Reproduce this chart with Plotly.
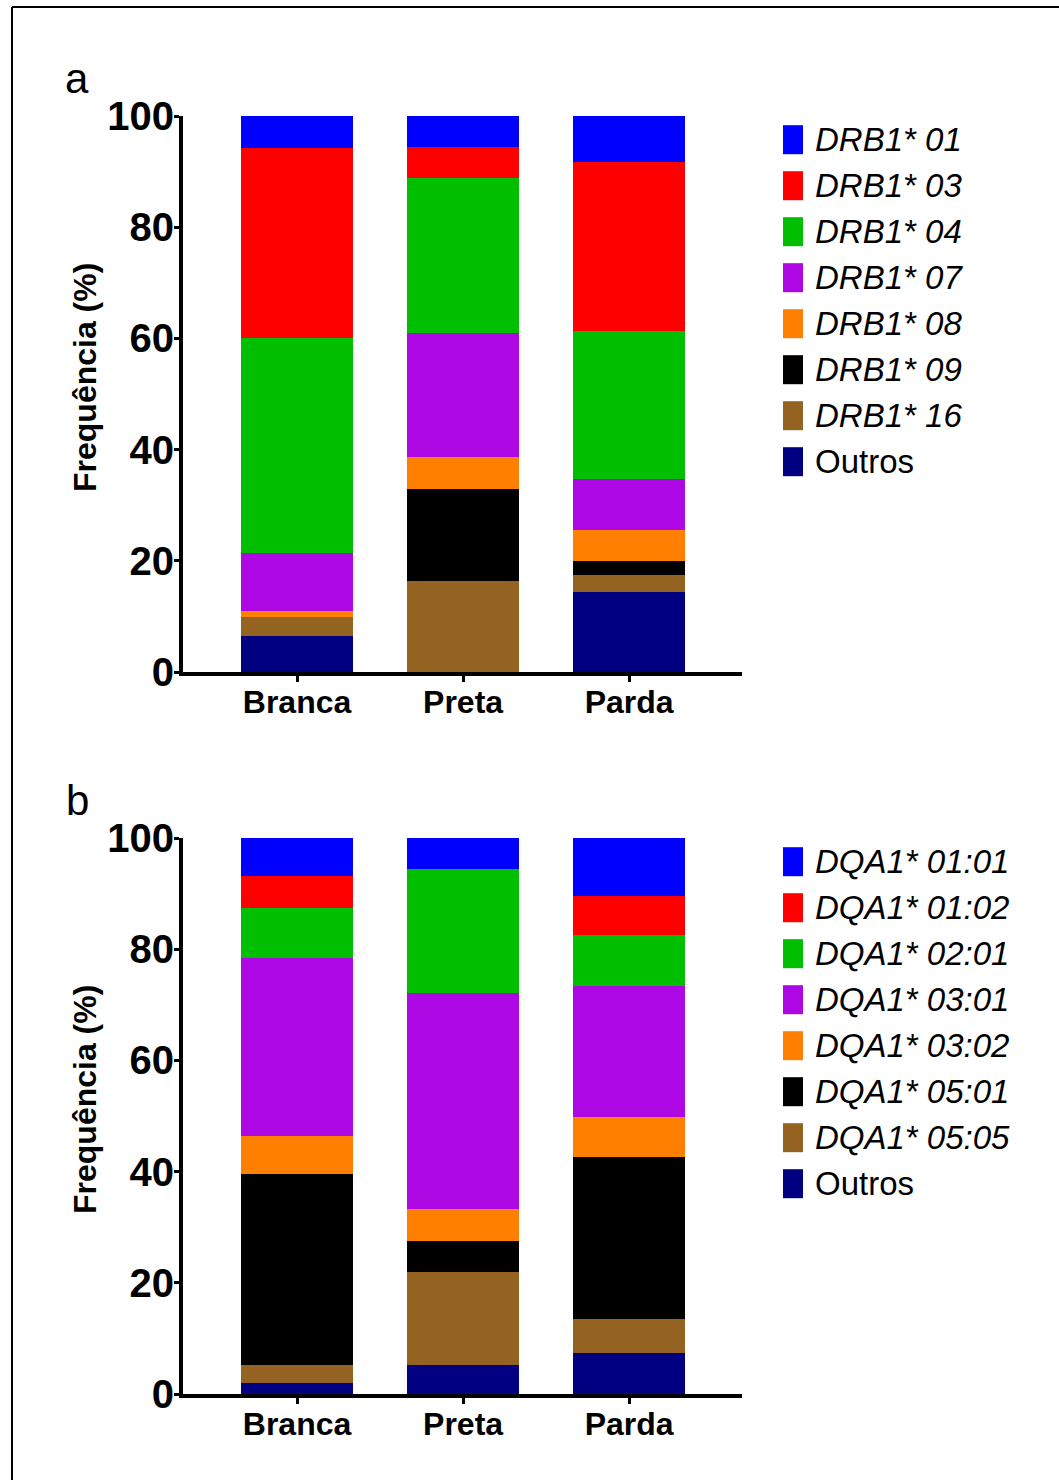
import plotly.graph_objects as go

W, H = 1059, 1480

categories = ["Branca", "Preta", "Parda"]

# Panel a: DRB1 alleles (legend order, top of stack first)
drb_names = ["DRB1* 01", "DRB1* 03", "DRB1* 04", "DRB1* 07", "DRB1* 08", "DRB1* 09", "DRB1* 16", "Outros"]
drb_01 = [5.8, 5.6, 8.2]
drb_03 = [34.2, 5.6, 30.4]
drb_04 = [38.6, 27.9, 26.7]
drb_07 = [10.4, 22.2, 9.2]
drb_08 = [1.1, 5.7, 5.6]
drb_09 = [0.0, 16.6, 2.5]
drb_16 = [3.4, 16.4, 3.1]
drb_outros = [6.5, 0.0, 14.3]

# Panel b: DQA1 alleles
dqa_names = ["DQA1* 01:01", "DQA1* 01:02", "DQA1* 02:01", "DQA1* 03:01", "DQA1* 03:02", "DQA1* 05:01", "DQA1* 05:05", "Outros"]
dqa_0101 = [6.9, 5.6, 10.4]
dqa_0102 = [5.6, 0.0, 7.0]
dqa_0201 = [9.1, 22.2, 9.3]
dqa_0301 = [32.0, 39.0, 23.5]
dqa_0302 = [6.8, 5.6, 7.1]
dqa_0501 = [34.3, 5.6, 29.2]
dqa_0505 = [3.4, 16.7, 6.1]
dqa_outros = [1.9, 5.3, 7.4]

y_ticks = [0, 20, 40, 60, 80, 100]

colors = ["#0000FF", "#FF0000", "#00BE00", "#AD07E3", "#FF8000", "#000000", "#956321", "#000080"]

drb_series = [drb_01, drb_03, drb_04, drb_07, drb_08, drb_09, drb_16, drb_outros]
dqa_series = [dqa_0101, dqa_0102, dqa_0201, dqa_0301, dqa_0302, dqa_0501, dqa_0505, dqa_outros]

FONT = "Liberation Sans, Arial, sans-serif"

fig = go.Figure()

def add_panel(names, series, xa, ya):
    # bottom of stack first (reverse of legend order)
    for name, vals, col in reversed(list(zip(names, series, colors))):
        fig.add_trace(go.Bar(
            x=categories, y=vals, name=name, marker=dict(color=col, line=dict(width=0)),
            width=0.67, xaxis=xa, yaxis=ya, showlegend=False,
        ))

add_panel(drb_names, drb_series, "x", "y")
add_panel(dqa_names, dqa_series, "x2", "y2")

def px_x(p):
    return p / W

def px_y(p):
    return 1 - p / H

xdom = [px_x(183), px_x(742)]
ydom_a = [px_y(672), px_y(116)]
offset_b = 722
ydom_b = [px_y(672 + offset_b), px_y(116 + offset_b)]

xaxis_common = dict(
    type="category", range=[-0.687, 2.68], domain=xdom,
    showline=True, linewidth=4, linecolor="black", mirror=False,
    ticks="outside", ticklen=6, tickwidth=3, tickcolor="black",
    ticklabelstandoff=-7,
    showgrid=False, zeroline=False, automargin=False,
    tickfont=dict(family=FONT, size=32, color="black", weight="bold"),
    fixedrange=True,
)
yaxis_common = dict(
    range=[0, 100], tickmode="array", tickvals=y_ticks,
    showline=True, linewidth=4, linecolor="black",
    ticks="outside", ticklen=5, tickwidth=3, tickcolor="black",
    ticklabelstandoff=-8,
    showgrid=False, zeroline=False, automargin=False,
    tickfont=dict(family=FONT, size=40, color="black", weight="bold"),
    fixedrange=True,
)

fig.update_layout(
    width=W, height=H, autosize=False,
    margin=dict(l=0, r=0, t=0, b=0, pad=0, autoexpand=False),
    paper_bgcolor="white", plot_bgcolor="white",
    barmode="stack", bargap=0.33,
    xaxis=dict(xaxis_common, anchor="y"),
    yaxis=dict(yaxis_common, domain=ydom_a, anchor="x"),
    xaxis2=dict(xaxis_common, anchor="y2"),
    yaxis2=dict(yaxis_common, domain=ydom_b, anchor="x2"),
    showlegend=False,
    font=dict(family=FONT, color="black"),
)

shapes = []
annotations = []

# frame (left and top edges)
shapes.append(dict(type="line", xref="paper", yref="paper", x0=px_x(12), x1=px_x(12), y0=px_y(7), y1=-0.05,
                   line=dict(color="black", width=2)))
shapes.append(dict(type="line", xref="paper", yref="paper", x0=px_x(12), x1=1.05, y0=px_y(7), y1=px_y(7),
                   line=dict(color="black", width=2)))

for label, dy, names in [("a", 0, drb_names), ("b", offset_b, dqa_names)]:
    annotations.append(dict(text=label, xref="paper", yref="paper", x=px_x(77), y=px_y(78 + dy),
                            xanchor="center", yanchor="middle", showarrow=False,
                            font=dict(family=FONT, size=42, color="black")))
    annotations.append(dict(text="Frequência (%)", xref="paper", yref="paper", x=px_x(85), y=px_y(378 + dy),
                            xanchor="center", yanchor="middle", showarrow=False, textangle=-90,
                            font=dict(family=FONT, size=32, color="black", weight="bold")))
    # manual legend
    for i, (name, col) in enumerate(zip(names, colors)):
        cy = 139.7 + 46 * i + dy
        shapes.append(dict(type="rect", xref="paper", yref="paper",
                           x0=px_x(783), x1=px_x(803), y0=px_y(cy + 14.5), y1=px_y(cy - 14.5),
                           fillcolor=col, line=dict(width=0)))
        txt = name if name == "Outros" else "<i>" + name + "</i>"
        annotations.append(dict(text=txt, xref="paper", yref="paper", x=px_x(813), y=px_y(cy),
                                xanchor="left", yanchor="middle", showarrow=False,
                                font=dict(family=FONT, size=33, color="black")))

fig.update_layout(shapes=shapes, annotations=annotations)

fig.write_html("out.html")
